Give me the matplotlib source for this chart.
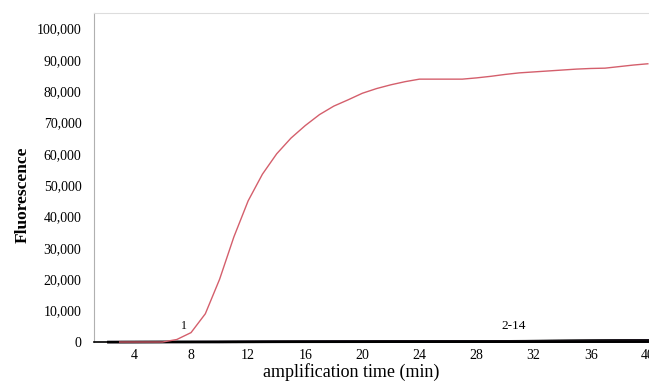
import numpy as np
import matplotlib.pyplot as plt
from matplotlib.ticker import FuncFormatter

# positive sample (curve 1), one reading per minute
pos_time = list(range(3, 41))
pos_fluo = [0, 0, 0, 0, 800, 3000, 9000, 20000, 33500, 45000,
            53500, 60000, 65000, 69000, 72500, 75200, 77200, 79300, 80800, 82000,
            83000, 83800, 83800, 83800, 83800, 84200, 84700, 85300, 85800, 86100,
            86400, 86700, 87000, 87200, 87300, 87800, 88300, 88700]

# negative samples (curves 2-14), coarse readings
neg_time = [2.2, 10, 20, 30, 40]
neg_fluo = [
    [0, 0, 50, 150, 300],
    [0, 20, 80, 200, 400],
    [0, 0, 30, 100, 250],
    [0, 30, 100, 250, 500],
    [0, 10, 60, 180, 350],
    [0, 0, 40, 120, 280],
    [0, 40, 120, 300, 600],
    [0, 0, 20, 90, 200],
    [0, 15, 70, 170, 380],
    [0, 25, 90, 220, 450],
    [0, 5, 50, 140, 320],
    [0, 35, 110, 270, 550],
    [0, 0, 10, 60, 150],
]
neg_colors = ["#000000", "#1a1020", "#2a1a35", "#000000", "#3a2a45", "#101010",
              "#000000", "#2a2030", "#000000", "#4a3a55", "#000000", "#151015", "#000000"]

plt.rcParams["font.family"] = ["Liberation Serif", "DejaVu Serif"]

fig = plt.figure(figsize=(6.49, 3.83), dpi=100)
ax = fig.add_axes([0.1448, 0.107, 0.86, 0.86])

for vals, c in zip(neg_fluo, neg_colors):
    ax.plot(neg_time, vals, color=c, lw=1.5, clip_on=False, zorder=2)
ax.plot(pos_time, pos_fluo, color="#d45f6c", lw=1.0, clip_on=False, zorder=3)

ax.text(7.5, 5000, "1", fontsize=8.5, ha="center", va="center")
ax.text(30.6, 5000, "2-14", fontsize=9.5, ha="center", va="center")

ax.set_xlim(1.2, 40.3)
ax.set_ylim(0, 105000)
ax.set_xticks(range(4, 41, 4))
ax.set_yticks(range(0, 100001, 10000))
ax.yaxis.set_major_formatter(FuncFormatter(lambda v, p: f"{int(v):,}"))
ax.tick_params(axis="both", length=0, labelsize=10)
ax.tick_params(axis="y", pad=9)
ax.tick_params(axis="x", pad=5)

for s in ["left", "top", "right"]:
    ax.spines[s].set_color("#b0b0b0")
    ax.spines[s].set_linewidth(0.8)
ax.spines["top"].set_color("#dddddd")
ax.spines["bottom"].set_color("#000000")
ax.spines["bottom"].set_linewidth(1.2)

ax.set_xlabel("amplification time (min)", fontsize=13)
ax.xaxis.set_label_coords(0.46, -0.063)
ax.set_ylabel("Fluorescence", fontsize=12.5, fontweight="bold")
ax.yaxis.set_label_coords(-0.114, 0.447)

fig.savefig("out.png", dpi=100)
